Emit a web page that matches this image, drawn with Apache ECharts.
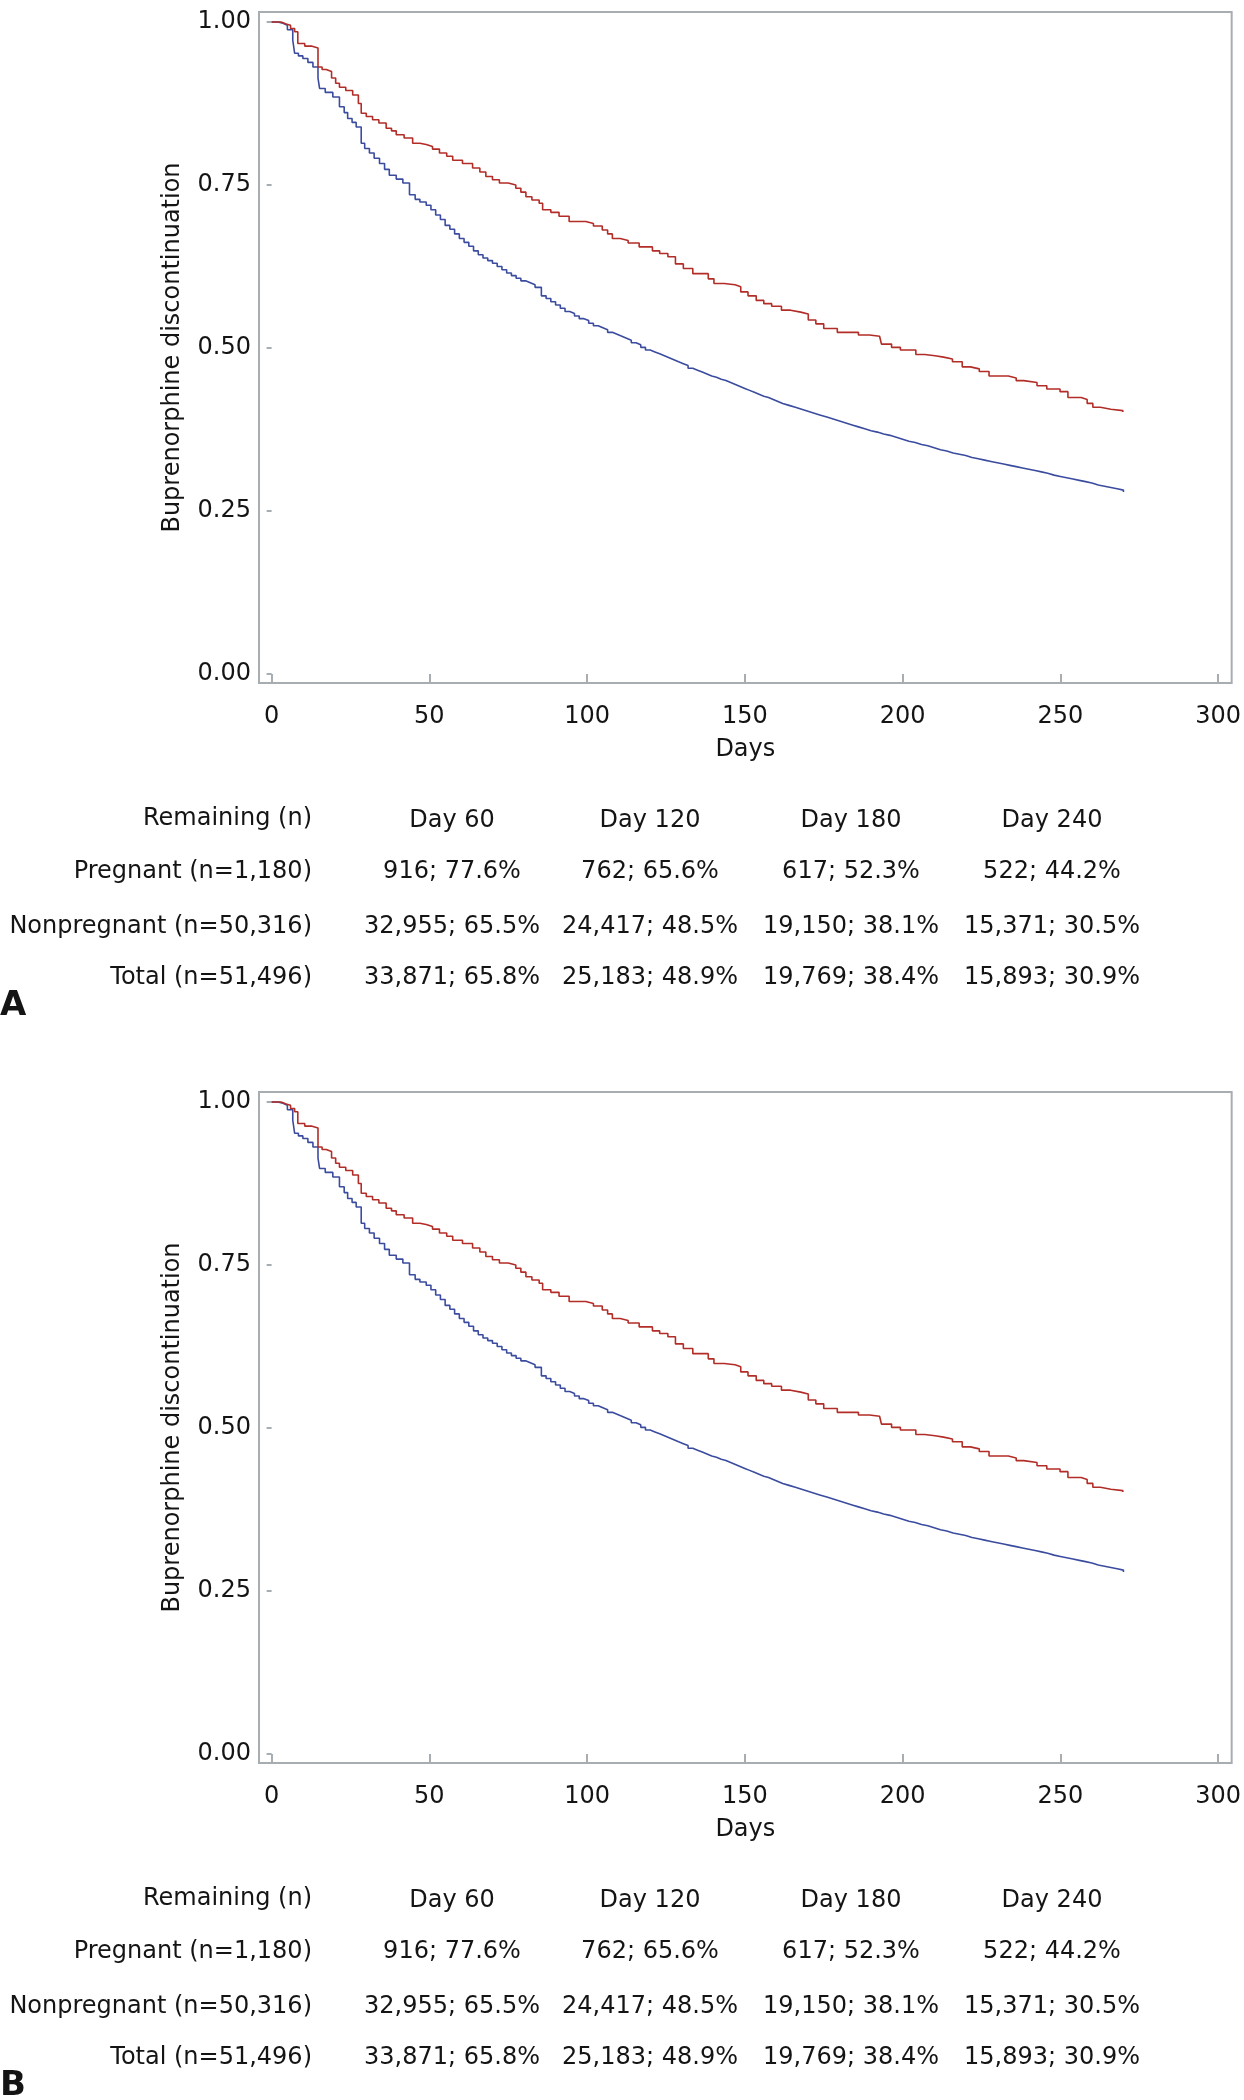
<!DOCTYPE html>
<html>
<head>
<meta charset="utf-8">
<script src="https://cdn.jsdelivr.net/npm/echarts@6/dist/echarts.min.js"></script>
<style>
html,body{margin:0;padding:0;background:#fff;}
#chart{width:1244px;height:2100px;}
</style>
</head>
<body>
<div id="chart"></div>
<script>
// ---- data ----
const xTicks = [0, 50, 100, 150, 200, 250, 300];
const yTicks = [0, 0.25, 0.5, 0.75, 1];
const pregnantCurve = [[0,1.0],[3,0.997],[4.6,0.995],[6,0.99],[7.3,0.985],[8.3,0.967],[10.5,0.963],[12.6,0.96],[14.7,0.931],[16,0.927],[17.3,0.924],[19,0.914],[20.3,0.906],[21.5,0.90],[23.5,0.895],[25.7,0.888],[27.5,0.875],[28.4,0.86],[30,0.855],[32,0.85],[34,0.845],[36.3,0.837],[38,0.833],[39.5,0.827],[42,0.822],[44.7,0.814],[47,0.812],[49,0.809],[51,0.805],[53.2,0.799],[55.5,0.794],[57.4,0.788],[60.5,0.783],[63.7,0.776],[66,0.77],[67.9,0.763],[70,0.758],[72.2,0.753],[75,0.75],[77.4,0.745],[79,0.739],[80.6,0.732],[82.5,0.727],[84.8,0.722],[85.9,0.712],[88.5,0.708],[91.1,0.702],[94.3,0.694],[99.6,0.691],[102,0.687],[104.8,0.681],[106.5,0.675],[108,0.668],[110.5,0.665],[113,0.661],[116.5,0.655],[120.7,0.649],[123,0.645],[125.6,0.64],[128,0.629],[130.5,0.622],[133.5,0.614],[138.4,0.606],[140.2,0.599],[143.5,0.597],[146.9,0.594],[148.7,0.586],[151,0.58],[153.6,0.573],[156,0.568],[158.5,0.564],[161.6,0.558],[164.5,0.555],[167.7,0.552],[170.1,0.543],[172.5,0.537],[175,0.53],[179.3,0.524],[186,0.52],[189.5,0.518],[192.7,0.515],[193.3,0.506],[196.5,0.501],[199.3,0.497],[204.2,0.49],[207,0.488],[210.3,0.486],[213,0.483],[215.8,0.479],[218.9,0.471],[221.5,0.468],[224.3,0.464],[227.4,0.457],[233.5,0.454],[236,0.45],[238.4,0.447],[242.6,0.442],[245.7,0.437],[249.9,0.433],[252.4,0.424],[256.6,0.421],[258.5,0.415],[260.3,0.409],[262.7,0.406],[266,0.404],[269.8,0.402]];
const nonpregnantCurve = [[0,1.0],[2,0.998],[3.6,0.995],[5,0.988],[6.7,0.972],[7.3,0.952],[8.5,0.948],[9.9,0.944],[11.5,0.938],[13.1,0.931],[14.7,0.914],[15.2,0.898],[17,0.892],[19.4,0.885],[21.5,0.87],[23,0.861],[24.1,0.852],[25.5,0.846],[26.8,0.839],[28.4,0.814],[29.5,0.806],[31,0.799],[32.5,0.791],[34.2,0.783],[35.8,0.774],[37.3,0.765],[39.5,0.759],[41.6,0.753],[43.7,0.735],[45.5,0.728],[47,0.724],[49,0.719],[50.5,0.712],[52,0.704],[53.5,0.697],[55,0.688],[56.5,0.682],[58,0.675],[59.5,0.668],[61,0.662],[62.5,0.656],[64,0.649],[65.5,0.643],[67,0.638],[68.5,0.634],[70,0.63],[71.5,0.625],[73,0.62],[74.5,0.615],[76,0.611],[77.5,0.607],[79,0.603],[80.5,0.6],[82,0.597],[83.5,0.593],[85.5,0.58],[87,0.576],[88.5,0.571],[90,0.566],[91.5,0.561],[93,0.556],[94.5,0.553],[96,0.549],[97.5,0.545],[99,0.542],[100.5,0.538],[102,0.534],[103.5,0.531],[105,0.528],[106.5,0.524],[108,0.521],[109.5,0.518],[111,0.515],[112.5,0.512],[114,0.508],[115.5,0.505],[117,0.501],[118.5,0.497],[120,0.494],[121.5,0.491],[123,0.488],[124.5,0.485],[126,0.482],[127.5,0.479],[129,0.476],[130.5,0.473],[132,0.469],[133.5,0.466],[135,0.463],[136.5,0.46],[138,0.457],[139.5,0.455],[141,0.452],[142.5,0.45],[144,0.447],[145.5,0.444],[147,0.441],[148.5,0.438],[150,0.435],[151.5,0.432],[153,0.429],[154.5,0.426],[156,0.424],[157.5,0.421],[159,0.418],[160.5,0.415],[162,0.412],[164,0.409],[166,0.406],[168,0.403],[170,0.4],[172,0.397],[174,0.394],[176,0.391],[178,0.388],[180,0.385],[182,0.382],[184,0.379],[186,0.376],[188,0.373],[190,0.371],[192,0.368],[194,0.366],[196,0.363],[198,0.36],[200,0.357],[202,0.355],[204,0.352],[206,0.35],[208,0.347],[210,0.344],[212,0.342],[214,0.339],[216,0.337],[218,0.335],[220,0.332],[222,0.33],[224,0.328],[226,0.326],[228,0.324],[230,0.322],[232,0.32],[234,0.318],[236,0.316],[238,0.314],[240,0.312],[242,0.31],[244,0.308],[246,0.305],[248,0.303],[250,0.301],[252,0.299],[254,0.297],[256,0.295],[258,0.293],[260,0.29],[262,0.288],[264,0.286],[266,0.284],[268,0.282],[270,0.279]];
const tableHeader = ['Day 60', 'Day 120', 'Day 180', 'Day 240'];
const tableCorner = 'Remaining (n)';
const rowLabels = ['Pregnant (n=1,180)', 'Nonpregnant (n=50,316)', 'Total (n=51,496)'];
const rowValues = [
  ['916; 77.6%', '762; 65.6%', '617; 52.3%', '522; 44.2%'],
  ['32,955; 65.5%', '24,417; 48.5%', '19,150; 38.1%', '15,371; 30.5%'],
  ['33,871; 65.8%', '25,183; 48.9%', '19,769; 38.4%', '15,893; 30.9%']
];
const panelLetters = ['A', 'B'];
const axisTitleX = 'Days';
const axisTitleY = 'Buprenorphine discontinuation';

// ---- layout/style ----
const FONT = '"DejaVu Sans", sans-serif';
const TXT = '#141414';
const GRAY = '#a8adb2';
const RED = '#b22d27';
const BLUE = '#3b4c9f';
const panelOffset = 1080;
const gridTop = 12, gridLeft = 259, gridW = 975, gridH = 671;

const grids = [], xAxes = [], yAxes = [], series = [], graphics = [];
for (let p = 0; p < 2; p++) {
  const off = p * panelOffset;
  grids.push({left: gridLeft, top: gridTop + off, width: gridW, height: gridH,
    show: true, borderColor: GRAY, borderWidth: 2, containLabel: false});
  xAxes.push({type: 'value', gridIndex: p, min: -4, max: 304.3,
    axisLine: {show: false}, splitLine: {show: false},
    axisTick: {show: true, length: 9, lineStyle: {color: GRAY, width: 2}, customValues: xTicks},
    axisLabel: {customValues: xTicks, fontSize: 24, fontFamily: FONT, color: TXT, margin: 22},
    name: axisTitleX, nameLocation: 'middle', nameGap: 55,
    nameTextStyle: {fontSize: 24, fontFamily: FONT, color: TXT}});
  yAxes.push({type: 'value', gridIndex: p, min: -0.0138, max: 1.0153,
    axisLine: {show: false}, splitLine: {show: false},
    axisTick: {show: true, length: 5, lineStyle: {color: GRAY, width: 2}, customValues: yTicks},
    axisLabel: {customValues: yTicks, fontSize: 24, fontFamily: FONT, color: TXT, margin: 8,
      formatter: v => v.toFixed(2)},
    name: axisTitleY, nameLocation: 'middle', nameGap: 74, nameRotate: 90,
    nameTextStyle: {fontSize: 24, fontFamily: FONT, color: TXT}});
  series.push({type: 'line', xAxisIndex: p, yAxisIndex: p, step: 'end', showSymbol: false, symbol: 'none',
    data: pregnantCurve, lineStyle: {color: RED, width: 1.6}, z: 3});
  series.push({type: 'line', xAxisIndex: p, yAxisIndex: p, step: 'end', showSymbol: false, symbol: 'none',
    data: nonpregnantCurve, lineStyle: {color: BLUE, width: 1.6}, z: 2});

  // table
  const colX = [452, 650, 851, 1052];
  const rowY = [871.7, 926.7, 978];
  const labelRight = 312;
  const font = '24px ' + FONT;
  graphics.push({type: 'text', style: {text: tableCorner, x: labelRight, y: 819 + off, align: 'right', verticalAlign: 'middle', font: font, fill: TXT}});
  tableHeader.forEach((h, i) => graphics.push({type: 'text', style: {text: h, x: colX[i], y: 821 + off, align: 'center', verticalAlign: 'middle', font: font, fill: TXT}}));
  rowLabels.forEach((r, j) => {
    graphics.push({type: 'text', style: {text: r, x: labelRight, y: rowY[j] + off, align: 'right', verticalAlign: 'middle', font: font, fill: TXT}});
    rowValues[j].forEach((v, i) => graphics.push({type: 'text', style: {text: v, x: colX[i], y: rowY[j] + off, align: 'center', verticalAlign: 'middle', font: font, fill: TXT}}));
  });
  graphics.push({type: 'text', style: {text: panelLetters[p], x: 0, y: 1006 + off, align: 'left', verticalAlign: 'middle', font: 'bold 34px ' + FONT, fill: TXT}});
}

const chart = echarts.init(document.getElementById('chart'), null, {renderer: 'canvas'});
chart.setOption({
  animation: false,
  backgroundColor: '#ffffff',
  grid: grids, xAxis: xAxes, yAxis: yAxes, series: series, graphic: graphics
});
</script>
</body>
</html>
